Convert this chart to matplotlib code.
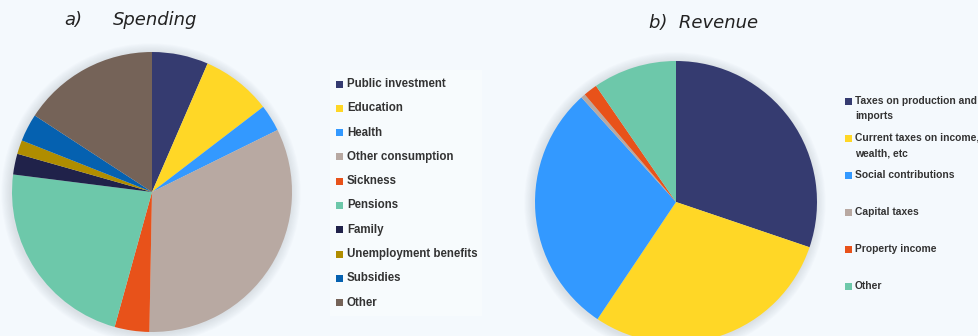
import numpy as np
import matplotlib.pyplot as plt
from matplotlib.patches import Circle, Rectangle

# Government spending shares (%), clockwise from 12 o'clock
spend_labels = ["Public investment", "Education", "Health", "Other consumption",
                "Sickness", "Pensions", "Family", "Unemployment benefits",
                "Subsidies", "Other"]
spend_values = [6.5, 8.1, 3.1, 32.6, 4.0, 22.7, 2.4, 1.6, 3.2, 15.8]
spend_colors = ["#353B70", "#FFD726", "#3399FF", "#B8A9A2", "#E8521A",
                "#6DC8AA", "#20224A", "#B08D00", "#0561B0", "#756358"]

# Government revenue shares (%)
rev_labels = ["Taxes on production and\nimports",
              "Current taxes on income,\nwealth, etc",
              "Social contributions", "Capital taxes",
              "Property income", "Other"]
rev_values = [30.2, 29.2, 28.9, 0.5, 1.6, 9.6]
rev_colors = ["#353B70", "#FFD726", "#3399FF", "#B8A9A2", "#E8521A", "#6DC8AA"]

BG = "#F4F9FD"
W, H = 979, 336

fig = plt.figure(figsize=(W / 100, H / 100), dpi=100, facecolor=BG)
ax = fig.add_axes([0, 0, 1, 1])
ax.set_facecolor(BG)


def pie_with_glow(values, colors, cx, cy, r):
    # soft grey halo behind the pie
    for k in range(8, 0, -1):
        ax.add_patch(Circle((cx - 1, cy - 1), r + k * 1.2, color="#9aa3ad",
                            alpha=0.035, lw=0, zorder=1))
    ax.pie(values, colors=colors, startangle=90, counterclock=False,
           center=(cx, cy), radius=r, frame=True,
           wedgeprops=dict(linewidth=0, zorder=2))


pie_with_glow(spend_values, spend_colors, 152, H - 192, 140)
pie_with_glow(rev_values, rev_colors, 676, H - 202, 141)

ax.set_xlim(0, W)
ax.set_ylim(0, H)
ax.set_aspect("equal")
ax.axis("off")

# titles
title_kw = dict(fontsize=13, style="italic", color="#222222", va="center",
                family="DejaVu Sans")
ax.text(64, H - 20, "a)", **title_kw)
ax.text(113, H - 20, "Spending", **title_kw)
ax.text(649, H - 23, "b)  Revenue", **title_kw)


def legend_text(x, y, s, size):
    ax.text(x, y, s, fontsize=size, fontweight="bold", color="#333333",
            family="Liberation Sans", va="center")


# spending legend
ax.add_patch(Rectangle((330, H - 316), 152, 246, facecolor="white",
                       alpha=0.35, edgecolor="none", zorder=0.5))
for i, (lab, col) in enumerate(zip(spend_labels, spend_colors)):
    y = H - (84 + i * 24.3)
    ax.add_patch(Rectangle((336, y - 3.5), 7, 7, facecolor=col, lw=0))
    legend_text(347, y, lab, 8.3)

# revenue legend: first line of each label sits next to its marker
for i, (lab, col) in enumerate(zip(rev_labels, rev_colors)):
    y = H - (101 + i * 37)
    ax.add_patch(Rectangle((845, y - 3.5), 7, 7, facecolor=col, lw=0))
    for j, line in enumerate(lab.split("\n")):
        legend_text(855, y - j * 15, line, 7.4)

fig.savefig("out.png", dpi=100, facecolor=BG)
